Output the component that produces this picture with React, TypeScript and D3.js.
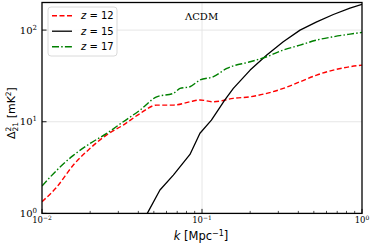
import * as d3 from 'd3';

// z = 12 (red dashed)
const kZ12 = [0.01, 0.0124, 0.0157, 0.02, 0.0254, 0.0322, 0.041, 0.0521, 0.0662, 0.0841, 0.097, 0.118, 0.157, 0.2, 0.254, 0.322, 0.41, 0.521, 0.662, 0.841, 1.0];
const dZ12 = [1.34, 1.95, 3.37, 5.13, 7.2, 9.2, 12.3, 15.2, 15.2, 16.5, 17.3, 16.5, 18.0, 18.7, 20.4, 23.1, 27.3, 32.3, 36.6, 39.8, 41.5];

// z = 15 (black solid)
const kZ15 = [0.0455, 0.0546, 0.0662, 0.0841, 0.0971, 0.1145, 0.139, 0.157, 0.2, 0.254, 0.322, 0.41, 0.521, 0.662, 0.841, 1.0];
const dZ15 = [1.0, 1.8, 2.62, 4.4, 7.5, 10.4, 17.3, 23.1, 36.6, 53.4, 74.7, 100, 123, 148, 174, 191];

// z = 17 (green dash-dot)
const kZ17 = [0.01, 0.0124, 0.0157, 0.02, 0.0254, 0.0322, 0.041, 0.0521, 0.0662, 0.0729, 0.0841, 0.097, 0.118, 0.143, 0.2, 0.254, 0.322, 0.41, 0.521, 0.662, 0.841, 1.0];
const dZ17 = [1.99, 2.97, 4.3, 5.8, 7.47, 10, 13.4, 18.7, 20.4, 23.1, 24.1, 28.5, 31, 38.2, 45.1, 51.2, 60.5, 68.6, 77.8, 84.6, 90.4, 94.4];

const xMajor = [0.01, 0.1, 1];
const xMajorExp = ['−2', '−1', '0'];
const yMajor = [1, 10, 100];
const yMajorExp = ['0', '1', '2'];

const W = 374;
const H = 247;
const left = 42;
const right = 362;
const top = 2.5;
const bottom = 213.4;

const x = d3.scaleLog().domain([0.01, 1]).range([left, right]);
const y = d3.scaleLog().domain([1, 200]).range([bottom, top]);

const series = [
  { label: '12', k: kZ12, d: dZ12, color: '#ff0000', dash: '5,2.5', width: 1.4, curve: d3.curveMonotoneX },
  { label: '15', k: kZ15, d: dZ15, color: '#000000', dash: undefined, width: 1.3, curve: d3.curveLinear },
  { label: '17', k: kZ17, d: dZ17, color: '#008000', dash: '7,2.2,1.5,2.2', width: 1.4, curve: d3.curveMonotoneX },
];

const minorTicks: number[] = [];
[0.01, 0.1].forEach((b) => {
  for (let i = 2; i <= 9; i++) minorTicks.push(b * i);
});

export default function App() {
  const line = (k: number[], d: number[], curve: d3.CurveFactory) =>
    d3
      .line<number>()
      .x((_, i) => x(k[i]))
      .y((v) => y(v))
      .curve(curve)(d) || '';

  return (
    <svg width={W} height={H} style={{ position: 'absolute', left: 0, top: 0, background: '#fff' }}>
      <defs>
        <clipPath id="plot">
          <rect x={left} y={top} width={right - left} height={bottom - top} />
        </clipPath>
      </defs>
      {/* grid */}
      {xMajor.slice(1, -1).map((t) => (
        <line key={'gx' + t} x1={x(t)} x2={x(t)} y1={top} y2={bottom} stroke="#e3e3e3" strokeWidth={0.9} />
      ))}
      {yMajor.slice(1).map((t) => (
        <line key={'gy' + t} x1={left} x2={right} y1={y(t)} y2={y(t)} stroke="#e3e3e3" strokeWidth={0.9} />
      ))}

      {/* lines */}
      <g clipPath="url(#plot)">
        {series.map((s) => (
          <path
            key={s.label}
            d={line(s.k, s.d, s.curve)}
            fill="none"
            stroke={s.color}
            strokeWidth={s.width}
            strokeDasharray={s.dash}
            strokeLinejoin="round"
          />
        ))}
      </g>

      {/* ticks */}
      {xMajor.map((t) => (
        <line key={'xt' + t} x1={x(t)} x2={x(t)} y1={bottom} y2={bottom - 4.5} stroke="#000" strokeWidth={0.9} />
      ))}
      {minorTicks.map((t) => (
        <line key={'xm' + t} x1={x(t)} x2={x(t)} y1={bottom} y2={bottom - 2.5} stroke="#000" strokeWidth={0.7} />
      ))}
      {yMajor.map((t) => (
        <line key={'yt' + t} x1={left} x2={left + 4.5} y1={y(t)} y2={y(t)} stroke="#000" strokeWidth={0.9} />
      ))}

      {/* frame */}
      <rect x={left} y={top} width={right - left} height={bottom - top} fill="none" stroke="#000" strokeWidth={1.3} />

      {/* tick labels */}
      {xMajor.map((t, i) => (
        <text key={'xl' + t} x={x(t)} y={223.3} textAnchor="middle" fontFamily="DejaVu Serif" fontSize={8.5} fill="#000">
          10
          <tspan fontSize={6} dy={-3.5}>{xMajorExp[i]}</tspan>
        </text>
      ))}
      {yMajor.map((t, i) => (
        <text key={'yl' + t} x={37} y={y(t) + 3.6} textAnchor="end" fontFamily="DejaVu Serif" fontSize={10} fill="#000">
          10
          <tspan fontSize={7} dy={-4}>{yMajorExp[i]}</tspan>
        </text>
      ))}

      {/* axis labels */}
      <text x={201} y={240} textAnchor="middle" fontFamily="DejaVu Sans" fontSize={11.5} fill="#000">
        <tspan fontStyle="italic">k</tspan>
        {' [Mpc'}
        <tspan fontSize={8} dy={-4.5}>−1</tspan>
        <tspan dy={4.5}>]</tspan>
      </text>
      <g transform="translate(15,113) rotate(-90)">
        <text x={0} y={0} textAnchor="middle" fontFamily="DejaVu Sans" fontSize={11} fill="#000">
          Δ
          <tspan fontSize={7.5} dy={-4.5}>2</tspan>
          <tspan fontSize={7.5} dx={-4.8} dy={7.5}>21</tspan>
          <tspan dy={-3}>{' [mK'}</tspan>
          <tspan fontSize={7.5} dy={-4.5}>2</tspan>
          <tspan dy={4.5}>]</tspan>
        </text>
      </g>

      {/* annotation */}
      <text x={185} y={20} fontFamily="DejaVu Serif" fontSize={10} fill="#000">
        ΛCDM
      </text>

      {/* legend */}
      <rect x={48} y={7} width={69} height={49} rx={3} fill="#fff" fillOpacity={0.85} stroke="#d0d0d0" strokeWidth={0.8} />
      {series.map((s, i) => {
        const ly = 15.7 + i * 15.5;
        return (
          <g key={'lg' + s.label}>
            <line x1={52} x2={72} y1={ly} y2={ly} stroke={s.color} strokeWidth={s.width} strokeDasharray={s.dash} />
            <text x={81} y={ly + 3.5} fontFamily="DejaVu Sans" fontSize={10} fill="#000">
              <tspan fontStyle="italic">z</tspan>
              {' = ' + s.label}
            </text>
          </g>
        );
      })}
    </svg>
  );
}
